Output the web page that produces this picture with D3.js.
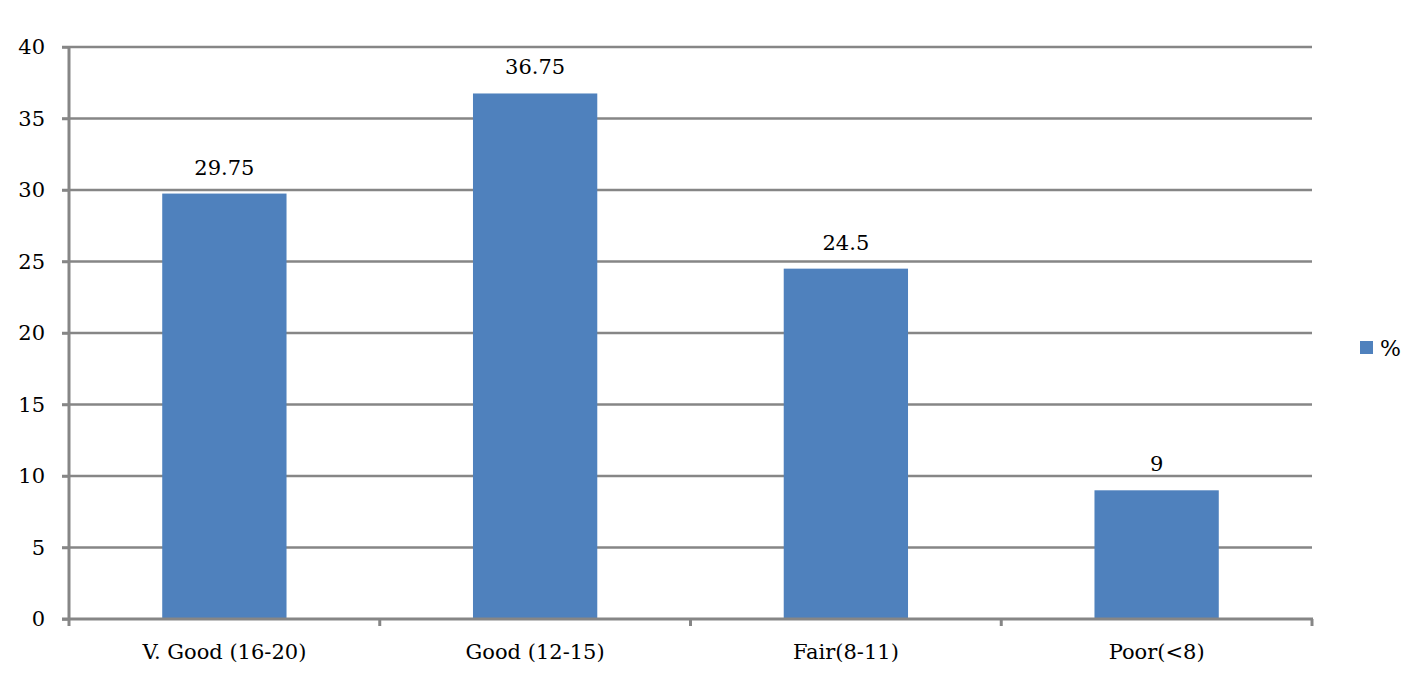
<!DOCTYPE html>
<html><head><meta charset="utf-8">
<script src="https://cdn.jsdelivr.net/npm/d3@7"></script>
<style>body{margin:0;background:#fff;} text{font-family:"DejaVu Serif",serif;fill:#000;}</style>
</head><body><svg id="c" width="1423" height="674"></svg>
<script>
const categories = ["V. Good (16-20)", "Good (12-15)", "Fair(8-11)", "Poor(<8)"];
const values = [29.75, 36.75, 24.5, 9];
const valueLabels = ["29.75", "36.75", "24.5", "9"];
const yTicks = [0, 5, 10, 15, 20, 25, 30, 35, 40];
const seriesName = "%";

const svg = d3.select("#c");
const L = 69, R = 1312, T = 47, B = 619;
const FS = 21;
const x = d3.scaleBand().domain(categories).range([L, R]).paddingInner(0.6).paddingOuter(0.3);
const y = d3.scaleLinear().domain([0, 40]).range([B, T]);
const grey = "#868686";

// gridlines
svg.append("g").selectAll("line").data(yTicks.filter(d => d > 0)).join("line")
  .attr("x1", L - 7).attr("x2", R).attr("y1", d => y(d)).attr("y2", d => y(d))
  .attr("stroke", grey).attr("stroke-width", 2.5);

// bars
svg.append("g").selectAll("rect").data(values).join("rect")
  .attr("x", (d, i) => x(categories[i])).attr("width", x.bandwidth())
  .attr("y", d => y(d)).attr("height", d => B - y(d))
  .attr("fill", "#4F81BD");

// value labels
svg.append("g").selectAll("text").data(values).join("text")
  .attr("x", (d, i) => x(categories[i]) + x.bandwidth() / 2)
  .attr("y", d => y(d) - 19)
  .attr("text-anchor", "middle").attr("font-size", FS)
  .text((d, i) => valueLabels[i]);

// y axis
const ya = svg.append("g").attr("transform", `translate(${L},0)`)
  .call(d3.axisLeft(y).tickValues(yTicks).tickSize(7).tickPadding(17));
ya.select(".domain").attr("stroke", grey).attr("stroke-width", 3).attr("d", `M0,${T}V${B}`);
ya.selectAll(".tick line").attr("stroke", grey).attr("stroke-width", 2.5);
ya.selectAll(".tick text").attr("font-size", FS).attr("font-family", "DejaVu Serif").attr("fill", "#000");

// x axis
const xb = svg.append("g").attr("transform", `translate(0,${B})`);
xb.append("line").attr("x1", L - 7).attr("x2", R + 1).attr("y1", 0).attr("y2", 0)
  .attr("stroke", grey).attr("stroke-width", 3);
const bounds = categories.map(c => x(c) - x.step() * x.paddingInner() / 2).concat([R]);
bounds[0] = L;
xb.selectAll("line.t").data(bounds).join("line").attr("class", "t")
  .attr("x1", d => d).attr("x2", d => d).attr("y1", 0).attr("y2", 7)
  .attr("stroke", grey).attr("stroke-width", 3);
xb.selectAll("text").data(categories).join("text")
  .attr("x", d => x(d) + x.bandwidth() / 2).attr("y", 40)
  .attr("text-anchor", "middle").attr("font-size", FS).text(d => d);

// legend
const lg = svg.append("g").attr("transform", "translate(1360,341)");
lg.append("rect").attr("width", 13).attr("height", 13).attr("fill", "#4F81BD");
lg.append("text").attr("x", 20).attr("y", 15).attr("font-size", 22).text(seriesName);
</script></body></html>
